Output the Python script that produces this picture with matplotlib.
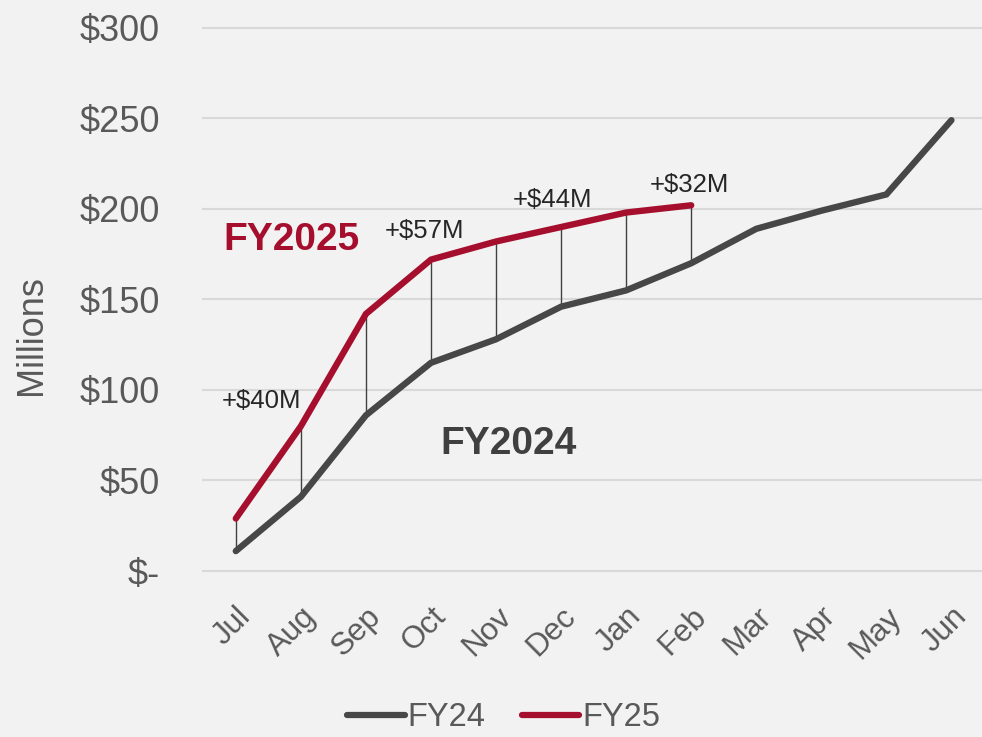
import matplotlib
matplotlib.use("Agg")
import matplotlib.pyplot as plt
import numpy as np

months = ["Jul", "Aug", "Sep", "Oct", "Nov", "Dec", "Jan", "Feb", "Mar", "Apr", "May", "Jun"]
fy24 = [11, 41, 86, 115, 128, 146, 155, 170, 189, 199, 208, 249]
fy25 = [29, 80, 142, 172, 182, 190, 198, 202]
yticks = [0, 50, 100, 150, 200, 250, 300]
ytick_labels = ["$-", "$50", "$100", "$150", "$200", "$250", "$300"]
ann_text = ["+$40M", "+$57M", "+$44M", "+$32M"]
ann_pos = [(0.4, 94), (2.9, 188), (4.87, 205), (6.97, 213)]

plt.rcParams['font.family'] = ['Liberation Sans', 'DejaVu Sans']
bg = "#f2f2f2"
c24 = "#474747"
c25 = "#a50f2d"
txt = "#595959"

fig = plt.figure(figsize=(9.82, 7.37), dpi=100, facecolor=bg)
ax = fig.add_axes([0.207, 0.2252, 0.795, 0.737])
ax.set_facecolor(bg)
x = np.arange(len(months))

for v in yticks:
    ax.axhline(v, color="#d9d9d9", lw=1.5, zorder=0, clip_on=False)

for i in range(len(fy25)):
    ax.plot([x[i], x[i]], [fy24[i], fy25[i]], color="#404040", lw=1.0, zorder=1)

ax.plot(x, fy24, color=c24, lw=4.6, solid_capstyle="round", solid_joinstyle="miter", label="FY24", zorder=2, clip_on=False)
ax.plot(x[:len(fy25)], fy25, color=c25, lw=4.6, solid_capstyle="round", solid_joinstyle="miter", label="FY25", zorder=3, clip_on=False)

for t, (px, py) in zip(ann_text, ann_pos):
    ax.text(px, py, t, fontsize=18.5, color="#262626", ha="center", va="center")

ax.text(0.85, 183, "FY2025", fontsize=28, fontweight="bold", color=c25, ha="center", va="center")
ax.text(4.2, 70, "FY2024", fontsize=28, fontweight="bold", color="#404040", ha="center", va="center")

ax.set_xlim(-0.5, 11.5)
ax.set_ylim(0, 300)
ax.set_yticks(yticks)
ax.set_yticklabels(ytick_labels, fontsize=26, color=txt)
ax.set_xticks(x)
ax.set_xticklabels(months, fontsize=22.5, color=txt, rotation=45, ha="right", rotation_mode="anchor")
ax.tick_params(axis="both", length=0)
ax.tick_params(axis="y", pad=31)
ax.tick_params(axis="x", pad=22)
for s in ax.spines.values():
    s.set_visible(False)

ax.set_ylabel("Millions", fontsize=26, color=txt)
ax.yaxis.set_label_coords(-0.197, 0.435)

leg = fig.legend(loc="center", bbox_to_anchor=(0.513, 0.026), ncol=2, frameon=False,
                 fontsize=23.5, handlelength=1.75, handletextpad=0.1, columnspacing=1.1)
for t in leg.get_texts():
    t.set_color(txt)
for h in leg.get_lines():
    h.set_linewidth(4.5)

fig.savefig("out.png", dpi=100, facecolor=bg)
